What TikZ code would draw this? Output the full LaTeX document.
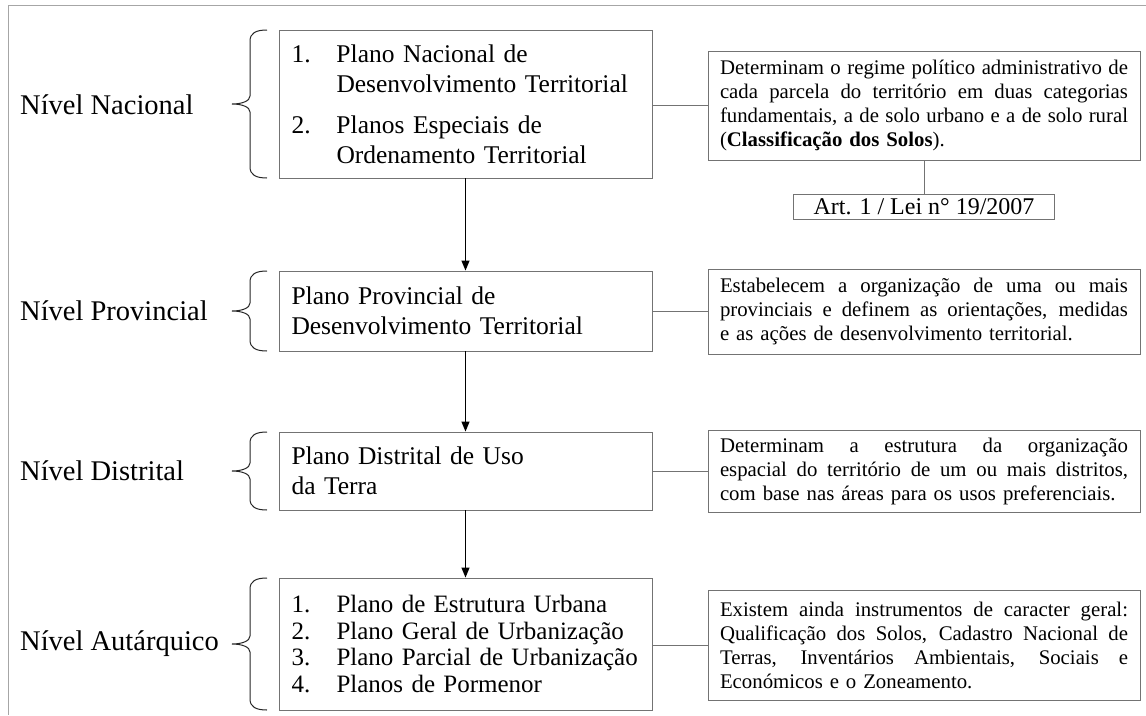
\documentclass[tikz,border=0pt]{standalone}
\usepackage{fontspec}
\setmainfont{Liberation Serif}
\usetikzlibrary{arrows.meta,calc}
\newcommand\jline[1]{\leavevmode\hbox to 408pt{\spaceskip=0.25em plus 1fil\xspaceskip=0.25em plus 1fil\relax #1}}
\newcommand\itm[1]{\makebox[45pt][l]{#1}}
\newcommand\levelbrace[3]{%
  \draw[brc] (267,#1) .. controls (256,#1) and (250,#1+3) .. (250,#1+11)
    -- (250,#2-8) .. controls (250,#2-3) and (242,#2) .. (232,#2)
    .. controls (242,#2) and (250,#2+3) .. (250,#2+8)
    -- (250,#3-11) .. controls (250,#3-3) and (256,#3) .. (267,#3);}
\begin{document}
\begin{tikzpicture}[x=1pt,y=-1pt,
  mainbox/.style={draw=black!55, line width=0.9pt, rectangle, inner xsep=12.5pt, inner ysep=0pt,
    text width=348pt, minimum width=373pt, align=left, font=\fontsize{25.5}{30}\selectfont},
  descbox/.style={draw=black!55, line width=0.9pt, rectangle, inner xsep=12pt, inner ysep=0pt,
    text width=408pt, minimum width=432pt, align=left, font=\fontsize{20.8}{24}\selectfont},
  lvl/.style={anchor=west, inner sep=0pt, font=\fontsize{28.5}{32}\selectfont},
  link/.style={draw=black!55, line width=0.9pt},
  flow/.style={draw=black, line width=1.1pt, -{Triangle[length=10pt,width=8pt]}},
  brc/.style={draw=black!85, line width=1pt}]
\useasboundingbox (0,0) rectangle (1146,715);
\fill[white] (0,0) rectangle (1146,715);
\draw[black!35, line width=1pt] (1146,5) -- (8,5) -- (8,715);

% level labels
\node[lvl] (lnac) at (20,105) {Nível Nacional};
\node[lvl] (lprov) at (20,311) {Nível Provincial};
\node[lvl] (ldist) at (20,471) {Nível Distrital};
\node[lvl] (laut) at (20,644) {Nível Autárquico};

% main boxes
\node[mainbox, minimum height=148pt] (nac) at (465.5,104) {%
  \itm{1.}Plano Nacional de\\
  \hspace*{45pt}Desenvolvimento Territorial\\[11pt]
  \itm{2.}Planos Especiais de\\
  \hspace*{45pt}Ordenamento Territorial};
\node[mainbox, minimum height=80pt] (prov) at (465.5,311) {%
  Plano Provincial de\\Desenvolvimento Territorial};
\node[mainbox, minimum height=78pt] (dist) at (465.5,471) {%
  Plano Distrital de Uso\\da Terra};
\node[mainbox, minimum height=132pt, font=\fontsize{25}{26.7}\selectfont] (aut) at (465.5,644) {%
  \mbox{\itm{1.}Plano de Estrutura Urbana}\\
  \mbox{\itm{2.}Plano Geral de Urbanização}\\
  \mbox{\itm{3.}Plano Parcial de Urbanização}\\
  \mbox{\itm{4.}Planos de Pormenor}};

% braces
\levelbrace{30}{104}{178}
\levelbrace{271}{311}{351}
\levelbrace{432}{471}{510}
\levelbrace{578}{644}{710}

% description boxes
\node[descbox, minimum height=109pt] (dnac) at (924,105.5) {%
  \jline{Determinam o regime político administrativo de}\\
  \jline{cada parcela do território em duas categorias}\\
  \jline{fundamentais, a de solo urbano e a de solo rural}\\
  \mbox{(\textbf{Classificação dos Solos}).}};
\node[draw=black!55, line width=0.9pt, inner sep=0pt, minimum width=261pt, minimum height=25pt,
  font=\fontsize{24}{26}\selectfont] (art) at (924,206.5) {Art. 1 / Lei n° 19/2007};
\node[descbox, minimum height=85pt] (dprov) at (924,311.5) {%
  \jline{Estabelecem a organização de uma ou mais}\\
  \jline{provinciais e definem as orientações, medidas}\\
  \mbox{e as ações de desenvolvimento territorial.}};
\node[descbox, minimum height=82pt] (ddist) at (924,471) {%
  \jline{Determinam a estrutura da organização}\\
  \jline{espacial do território de um ou mais distritos,}\\
  \mbox{com base nas áreas para os usos preferenciais.}};
\node[descbox, minimum height=110pt] (daut) at (924,645) {%
  \jline{Existem ainda instrumentos de caracter geral:}\\
  \jline{Qualificação dos Solos, Cadastro Nacional de}\\
  \jline{Terras, Inventários Ambientais, Sociais e}\\
  \mbox{Económicos e o Zoneamento.}};

% connectors
\draw[link] (dnac.west -| nac.east) -- (dnac.west);
\draw[link] (dnac.south) -- (art.north);
\draw[link] (dprov.west -| prov.east) -- (dprov.west);
\draw[link] (ddist.west -| dist.east) -- (ddist.west);
\draw[link] (daut.west -| aut.east) -- (daut.west);

% flow arrows
\draw[flow] (nac.south) -- (prov.north);
\draw[flow] (prov.south) -- (dist.north);
\draw[flow] (dist.south) -- (aut.north);
\end{tikzpicture}
\end{document}
